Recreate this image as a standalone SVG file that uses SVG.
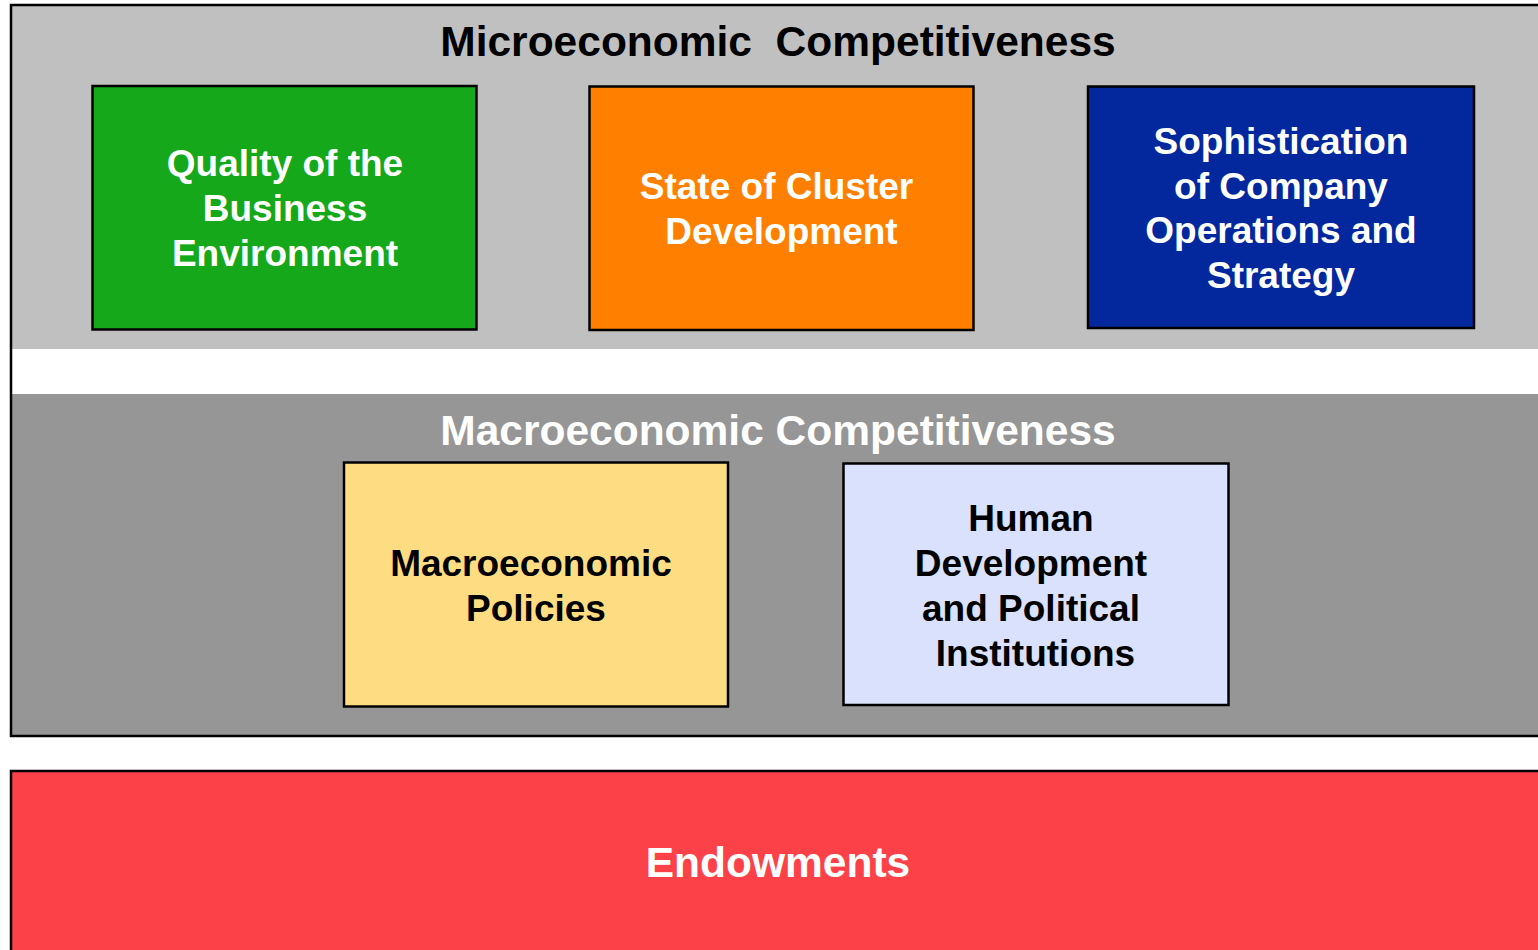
<svg xmlns="http://www.w3.org/2000/svg" width="1538" height="950" viewBox="0 0 1538 950">
<style>
text{font-family:"Liberation Sans",Arial,sans-serif;font-weight:bold;text-anchor:middle}
.title{font-size:42.5px}
.lbl{font-size:37px}
.box{stroke:#000;stroke-width:2.5}
.w{fill:#fff}
.k{fill:#000}
</style>
<rect width="1538" height="950" fill="#fff"/>
<g id="micro-band">
<rect x="11" y="5" width="1540" height="344" fill="#c0c0c0"/>
<text class="title k" x="778" y="56">Microeconomic &#160;Competitiveness</text>
</g>
<g id="macro-band">
<rect x="11" y="394" width="1540" height="342" fill="#969696"/>
<text class="title w" x="778" y="445">Macroeconomic Competitiveness</text>
</g>
<path d="M1550,5 H11 V736 H1550" fill="none" stroke="#000" stroke-width="2.5"/>
<g id="quality">
<rect class="box" x="92.5" y="86" width="384" height="243.5" fill="#14a81a"/>
<text class="lbl w"><tspan x="285" y="176">Quality of the</tspan><tspan x="285" y="221">Business</tspan><tspan x="285" y="266">Environment</tspan></text>
</g>
<g id="cluster">
<rect class="box" x="589.5" y="86.5" width="384" height="243.5" fill="#ff8000"/>
<text class="lbl w"><tspan x="776.5" y="199">State of Cluster</tspan><tspan x="781.5" y="244">Development</tspan></text>
</g>
<g id="sophistication">
<rect class="box" x="1088" y="86.5" width="386" height="241.5" fill="#03289e"/>
<text class="lbl w"><tspan x="1281" y="154">Sophistication</tspan><tspan x="1281" y="199">of Company</tspan><tspan x="1281" y="243">Operations and</tspan><tspan x="1281" y="288">Strategy</tspan></text>
</g>
<g id="macro-policies">
<rect class="box" x="344" y="462.5" width="384" height="244" fill="#fedd82"/>
<text class="lbl k"><tspan x="531" y="576">Macroeconomic</tspan><tspan x="536" y="621">Policies</tspan></text>
</g>
<g id="human">
<rect class="box" x="843.5" y="463.5" width="385" height="241.5" fill="#d9e1fc"/>
<text class="lbl k"><tspan x="1031" y="531">Human</tspan><tspan x="1031" y="576">Development</tspan><tspan x="1031" y="621">and Political</tspan><tspan x="1035.5" y="666">Institutions</tspan></text>
</g>
<g id="endowments">
<rect x="11" y="771" width="1540" height="200" fill="#fc4248" stroke="#000" stroke-width="2.5"/>
<text class="title w" x="778" y="877">Endowments</text>
</g>
<g id="connectors"></g>
</svg>
